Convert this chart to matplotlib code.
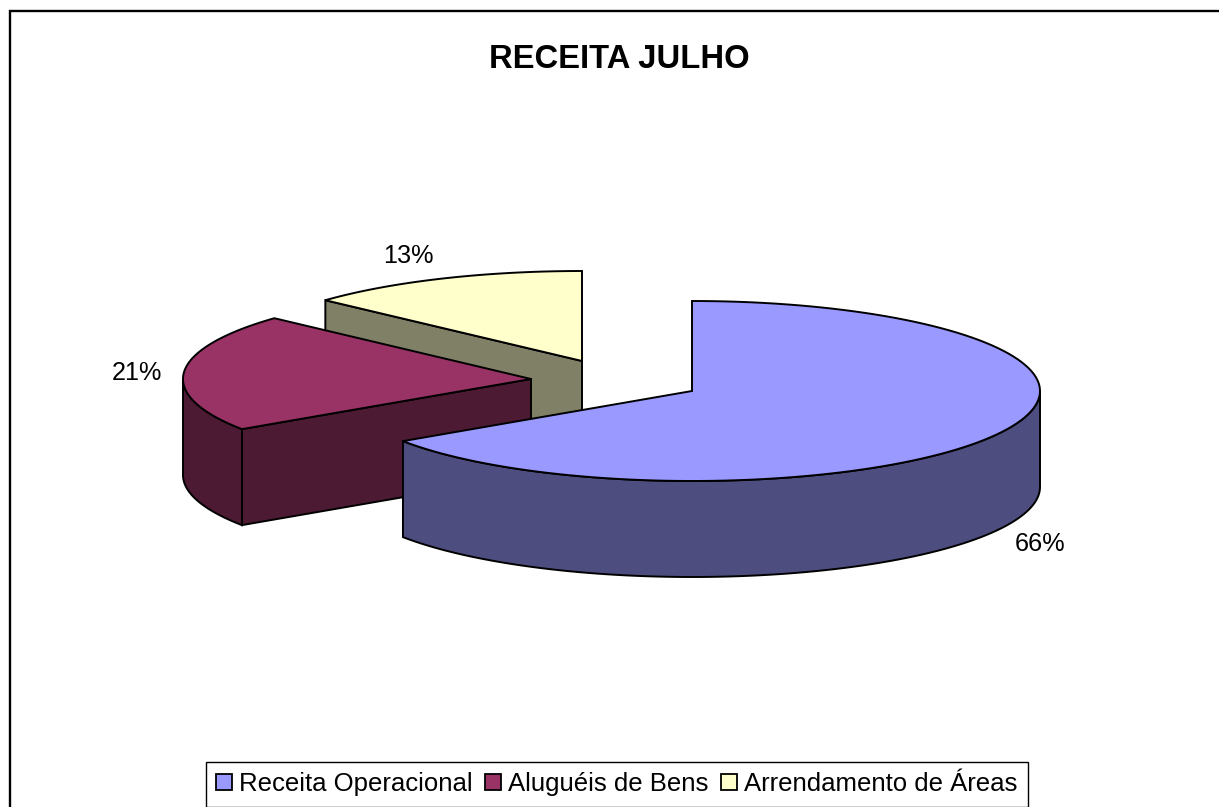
import numpy as np
import matplotlib
matplotlib.use('Agg')
import matplotlib.pyplot as plt
from matplotlib.patches import Polygon, Patch

plt.rcParams['font.family'] = ['Liberation Sans', 'DejaVu Sans']

# dados
categorias = ['Receita Operacional', 'Aluguéis de Bens', 'Arrendamento de Áreas']
valores = [65.6, 21.2, 13.2]
titulo = 'RECEITA JULHO'

# aparencia
cores_topo = ['#9999FF', '#993366', '#FFFFCC']
cores_lado = ['#4D4D80', '#4D1A33', '#808066']
centros = [(692, 391), (531, 379), (582, 361)]
pos_rotulos = [(1040, 544), (137, 373), (408, 256)]
rx, ry, prof = 348, 90, 96

fig = plt.figure(figsize=(12.19, 8.07), dpi=100)
ax = fig.add_axes([0, 0, 1, 1])
ax.set_xlim(0, 1219)
ax.set_ylim(807, 0)
ax.axis('off')


def ponto(c, ang):
    # angulo em graus, sentido horario a partir do topo
    t = np.radians(ang)
    return c[0] + rx * np.sin(t), c[1] - ry * np.cos(t)


def arco(c, a, b):
    ts = np.linspace(a, b, 120)
    return [ponto(c, t) for t in ts]


def desce(pts):
    return [(x, y + prof) for x, y in pts]


def poly(pts, cor):
    ax.add_patch(Polygon(pts, closed=True, facecolor=cor, edgecolor='black', lw=1.4, joinstyle='miter'))


# moldura
ax.plot([1219, 10, 10], [11, 11, 807], color='black', lw=1.7, solid_joinstyle='miter')

# fatias de tras para frente
acum = np.cumsum([0] + valores) / sum(valores) * 360
for i in [2, 1, 0]:
    a, b = acum[i], acum[i + 1]
    c = centros[i]
    # face do corte
    if 180 < a < 360:
        face = [c, ponto(c, a)]
        poly(face + desce(face)[::-1], cores_lado[i])
    # borda externa visivel (metade da frente)
    ini, fim = max(a, 90), min(b, 270)
    if ini < fim:
        borda = arco(c, ini, fim)
        poly(borda + desce(borda)[::-1], cores_lado[i])
    poly([c] + arco(c, a, b), cores_topo[i])

for v, (x, y) in zip(valores, pos_rotulos):
    ax.text(x, y, f'{v:.0f}%', fontsize=18.2, ha='center', va='center', color='black')

ax.text(619, 59, titulo, fontsize=23.6, fontweight='bold', ha='center', va='center')

alcas = [Patch(facecolor=cor, edgecolor='black', lw=1.3) for cor in cores_topo]
leg = ax.legend(alcas, categorias, loc='lower left', bbox_to_anchor=(206, 806.5),
                bbox_transform=ax.transData, ncol=3, fontsize=18.5, frameon=True,
                fancybox=False, framealpha=1, edgecolor='black', borderaxespad=0,
                handlelength=0.6, handleheight=0.6, handletextpad=0.3,
                columnspacing=0.48, borderpad=0.4)
leg.get_frame().set_linewidth(1.0)
leg.get_frame().set_clip_on(True)

fig.savefig('out.png', dpi=100, facecolor='white')
